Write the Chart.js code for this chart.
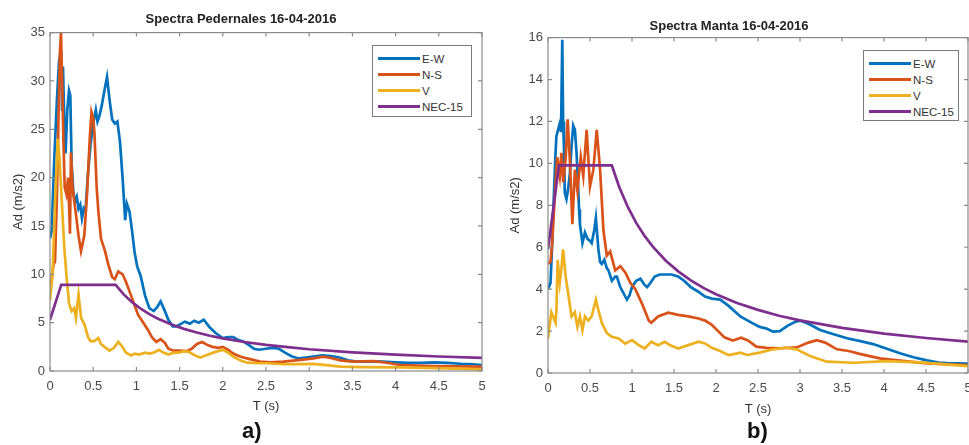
<!DOCTYPE html>
<html>
<head>
<meta charset="utf-8">
<script src="https://cdn.jsdelivr.net/npm/chart.js@4.4.1/dist/chart.umd.min.js"></script>
<style>
  body { margin: 0; width: 969px; height: 445px; background: #fff; position: relative; overflow: hidden;
         font-family: 'Liberation Sans', Arial, sans-serif; }
  canvas { position: absolute; top: 0; }
  #pedernales { left: 0; }
  #manta { left: 490px; }
  .legend { position: absolute; background: #fff; border: 1.5px solid #7a7a7a; box-sizing: border-box; padding-top: 5px; }
  .legend div { height: 16px; line-height: 16px; font-size: 11.5px; color: #333; white-space: nowrap; }
  .legend span { display: inline-block; width: 42px; height: 3px; vertical-align: middle; margin: 0 2px 2px 5px; }
  #legPed { left: 372px; top: 45px; width: 100px; height: 72px; }
  #legManta { left: 863px; top: 50px; width: 96px; height: 71px; }
  .panel { position: absolute; top: 418px; font-weight: bold; font-size: 22px; color: #111; }
</style>
</head>
<body>
<canvas id="pedernales" width="490" height="420"></canvas>
<canvas id="manta" width="479" height="420"></canvas>
<div class="legend" id="legPed"></div>
<div class="legend" id="legManta"></div>
<div class="panel" style="left:242px">a)</div>
<div class="panel" style="left:747px">b)</div>

<script>
const seriesNames = ['E-W', 'N-S', 'V', 'NEC-15'];
const colors = ['#0072BD', '#D95319', '#EDB120', '#7E2F8E'];

// Pedernales 16-04-2016, [T (s), Ad (m/s2)]
const pedEW = [[0,13.7],[0.02,14.5],[0.05,22],[0.08,28],[0.104,32],[0.127,33.2],[0.14,27],[0.15,31.5],[0.165,26],[0.18,22.5],[0.2,27],[0.22,29],[0.235,28.5],[0.25,21.5],[0.27,18.5],[0.29,17.5],[0.31,18],[0.33,16.8],[0.35,17.2],[0.37,15.8],[0.39,16.8],[0.41,16.5],[0.44,20.5],[0.47,23.5],[0.5,25.6],[0.53,27],[0.55,25.8],[0.57,26.3],[0.6,27.5],[0.63,29],[0.66,30.4],[0.69,28],[0.72,26],[0.75,25.6],[0.78,25.8],[0.81,23.7],[0.84,20],[0.87,15.6],[0.89,17.3],[0.92,16.5],[0.95,14.5],[0.98,12.2],[1.01,10.8],[1.05,9.8],[1.1,7.8],[1.15,6.5],[1.2,6.2],[1.24,6.6],[1.28,7.2],[1.32,6.4],[1.37,5.3],[1.42,4.6],[1.46,4.6],[1.5,4.8],[1.56,5.1],[1.62,4.9],[1.67,5.2],[1.72,5.0],[1.78,5.3],[1.85,4.5],[1.92,3.9],[2.0,3.4],[2.06,3.5],[2.12,3.5],[2.18,3.2],[2.24,3.05],[2.3,2.7],[2.36,2.3],[2.42,2.2],[2.5,2.3],[2.58,2.4],[2.65,2.3],[2.72,1.9],[2.8,1.5],[2.88,1.3],[2.96,1.4],[3.05,1.5],[3.15,1.62],[3.25,1.55],[3.35,1.4],[3.45,1.1],[3.55,0.97],[3.7,1.0],[3.85,0.97],[4.0,0.9],[4.15,0.85],[4.3,0.85],[4.45,0.9],[4.6,0.85],[4.75,0.75],[4.9,0.7],[5.0,0.62]];
const pedNS = [[0,8],[0.02,9.5],[0.04,11],[0.058,11.3],[0.08,18],[0.1,27],[0.115,33],[0.127,35],[0.14,30],[0.155,24],[0.17,19],[0.19,18.3],[0.21,20],[0.225,16],[0.231,14.2],[0.243,22.6],[0.26,19],[0.289,17],[0.31,15.5],[0.33,14],[0.359,12.4],[0.397,14],[0.43,18.5],[0.46,24],[0.48,26.8],[0.5,26.2],[0.515,24.5],[0.54,19],[0.56,16.5],[0.59,13.7],[0.637,12.4],[0.675,11],[0.72,9.7],[0.75,9.5],[0.79,10.3],[0.84,10],[0.88,9.2],[0.93,8],[0.97,7],[1.02,5.8],[1.08,5],[1.13,4.3],[1.18,3.5],[1.23,3.0],[1.28,3.3],[1.33,2.9],[1.37,2.3],[1.43,2.1],[1.5,2.1],[1.58,2.05],[1.64,2.3],[1.7,2.8],[1.76,3.0],[1.82,2.7],[1.88,2.5],[1.95,2.4],[2.0,2.5],[2.06,2.2],[2.12,1.8],[2.2,1.5],[2.28,1.3],[2.43,0.97],[2.55,0.9],[2.7,0.97],[2.9,1.15],[3.05,1.3],[3.16,1.49],[3.25,1.35],[3.36,1.1],[3.51,0.97],[3.74,1.03],[3.9,0.85],[4.05,0.62],[4.25,0.55],[4.44,0.5],[4.7,0.47],[5.0,0.45]];
const pedV = [[0,7.3],[0.03,10],[0.06,18],[0.089,24],[0.11,22],[0.135,17.8],[0.166,12.7],[0.193,9.6],[0.22,7],[0.25,6.2],[0.28,6.5],[0.3,5.5],[0.33,7.9],[0.36,5.5],[0.4,4.8],[0.44,3.5],[0.47,3.1],[0.51,3.1],[0.56,3.4],[0.59,2.8],[0.63,2.5],[0.69,2.1],[0.74,2.4],[0.79,3.0],[0.83,2.6],[0.88,1.9],[0.94,1.6],[0.98,1.8],[1.03,1.7],[1.1,1.9],[1.15,1.8],[1.2,1.9],[1.26,2.2],[1.31,1.9],[1.37,1.7],[1.43,1.9],[1.49,1.9],[1.55,2.06],[1.6,2.0],[1.68,1.6],[1.74,1.4],[1.8,1.6],[1.89,1.9],[2.0,2.2],[2.06,1.9],[2.12,1.5],[2.2,1.1],[2.28,0.86],[2.4,0.8],[2.51,0.8],[2.7,0.7],[2.9,0.72],[3.05,0.73],[3.2,0.6],[3.36,0.45],[3.6,0.4],[4.05,0.38],[4.5,0.3],[5.0,0.17]];
const pedNEC = [[0,5.3],[0.13,8.9],[0.76,8.9],[0.85,7.95],[0.95,7.12],[1.05,6.44],[1.15,5.88],[1.25,5.41],[1.4,4.83],[1.55,4.36],[1.7,3.98],[1.85,3.65],[2.0,3.38],[2.25,3.0],[2.5,2.7],[2.75,2.46],[3.0,2.25],[3.5,1.93],[4.0,1.69],[4.5,1.5],[5.0,1.35]];

// Manta 16-04-2016
const mantaEW = [[0,4.0],[0.03,4.3],[0.05,6.2],[0.07,8.5],[0.09,10.5],[0.1,11.3],[0.12,11.6],[0.14,11.9],[0.155,11.5],[0.17,15.9],[0.18,12],[0.19,10.8],[0.2,8.6],[0.22,8.3],[0.24,8.8],[0.26,9.5],[0.28,10.8],[0.3,11.8],[0.32,11.6],[0.34,10.5],[0.355,9.2],[0.37,7.8],[0.38,7.1],[0.41,6.2],[0.44,6.7],[0.47,6.4],[0.5,6.3],[0.52,6.2],[0.55,6.8],[0.57,7.4],[0.6,5.9],[0.62,5.3],[0.64,5.2],[0.67,5.4],[0.7,5.0],[0.72,4.9],[0.76,4.4],[0.8,4.6],[0.82,4.6],[0.86,4.1],[0.9,3.8],[0.94,3.5],[0.97,3.7],[1.0,4.1],[1.05,4.4],[1.1,4.5],[1.15,4.2],[1.18,4.1],[1.22,4.3],[1.27,4.6],[1.33,4.7],[1.4,4.7],[1.47,4.7],[1.55,4.6],[1.62,4.4],[1.7,4.1],[1.78,3.9],[1.87,3.65],[1.95,3.55],[2.05,3.5],[2.15,3.2],[2.29,2.7],[2.4,2.45],[2.52,2.2],[2.6,2.12],[2.68,1.97],[2.76,2.0],[2.85,2.25],[2.95,2.45],[3.0,2.5],[3.1,2.35],[3.24,2.05],[3.4,1.85],[3.56,1.66],[3.72,1.52],[3.87,1.38],[4.0,1.2],[4.19,0.94],[4.35,0.75],[4.51,0.6],[4.65,0.5],[4.75,0.47],[5.0,0.45]];
const mantaNS = [[0,5.2],[0.03,5.3],[0.05,6.2],[0.08,8.4],[0.11,10.3],[0.14,9.4],[0.16,10.5],[0.18,9.1],[0.21,10.2],[0.234,12.1],[0.26,10.2],[0.29,7.1],[0.32,9.7],[0.35,8.7],[0.39,10.3],[0.42,9.4],[0.46,11.6],[0.5,8.9],[0.54,9.7],[0.58,11.6],[0.62,9.7],[0.66,6.8],[0.7,5.6],[0.74,5.8],[0.8,4.9],[0.86,5.1],[0.92,4.8],[0.98,4.3],[1.04,4.0],[1.12,3.3],[1.2,2.5],[1.23,2.4],[1.31,2.7],[1.43,2.88],[1.55,2.77],[1.67,2.7],[1.79,2.6],[1.87,2.5],[1.95,2.3],[2.0,2.1],[2.1,1.7],[2.2,1.55],[2.3,1.68],[2.38,1.55],[2.48,1.26],[2.6,1.2],[2.76,1.18],[2.96,1.22],[3.1,1.45],[3.2,1.57],[3.3,1.45],[3.44,1.13],[3.58,1.05],[3.71,0.91],[3.95,0.7],[4.19,0.59],[4.51,0.46],[5.0,0.38]];
const mantaV = [[0,1.65],[0.04,2.9],[0.06,2.7],[0.09,2.4],[0.1,3.0],[0.115,5.4],[0.14,4.3],[0.16,5.0],[0.18,5.9],[0.21,4.6],[0.24,3.8],[0.28,2.7],[0.32,2.9],[0.35,2.2],[0.38,2.7],[0.41,2.05],[0.44,2.7],[0.48,2.5],[0.52,2.7],[0.57,3.5],[0.6,3.0],[0.64,2.4],[0.7,1.9],[0.76,1.73],[0.84,1.65],[0.92,1.4],[1.0,1.57],[1.08,1.33],[1.15,1.17],[1.23,1.49],[1.31,1.33],[1.39,1.49],[1.45,1.33],[1.55,1.17],[1.67,1.33],[1.79,1.49],[1.87,1.41],[1.95,1.2],[2.05,1.05],[2.15,0.85],[2.21,0.9],[2.29,0.97],[2.37,0.86],[2.52,0.97],[2.68,1.13],[2.84,1.21],[2.96,1.13],[3.12,0.81],[3.32,0.54],[3.64,0.49],[4.03,0.57],[4.43,0.51],[5.0,0.33]];
const mantaNEC = [[0,5.9],[0.13,9.9],[0.76,9.9],[0.85,8.85],[0.95,7.92],[1.05,7.16],[1.15,6.54],[1.25,6.02],[1.4,5.37],[1.55,4.85],[1.7,4.42],[1.85,4.06],[2.0,3.76],[2.25,3.34],[2.5,3.01],[2.75,2.73],[3.0,2.51],[3.5,2.15],[4.0,1.88],[4.5,1.67],[5.0,1.5]];

const axisColor = '#8a8a8a';
const labelColor = '#4a4a4a';
Chart.defaults.font.family = "'Liberation Sans', Arial, sans-serif";

// matlab style box with inward ticks on all four sides
const boxTicks = {
  id: 'boxTicks',
  afterDatasetsDraw(chart) {
    const { ctx, chartArea: a, scales: { x, y } } = chart;
    ctx.save();
    ctx.strokeStyle = axisColor;
    ctx.lineWidth = 1.2;
    ctx.strokeRect(a.left, a.top, a.right - a.left, a.bottom - a.top);
    ctx.beginPath();
    x.ticks.forEach(t => {
      const px = x.getPixelForValue(t.value);
      ctx.moveTo(px, a.bottom); ctx.lineTo(px, a.bottom - 4);
      ctx.moveTo(px, a.top); ctx.lineTo(px, a.top + 4);
    });
    y.ticks.forEach(t => {
      const py = y.getPixelForValue(t.value);
      ctx.moveTo(a.left, py); ctx.lineTo(a.left + 4, py);
      ctx.moveTo(a.right, py); ctx.lineTo(a.right - 4, py);
    });
    ctx.stroke();
    ctx.restore();
  }
};

function datasetsFrom(list) {
  return list.map((pts, i) => ({
    label: seriesNames[i],
    data: pts.map(p => ({ x: p[0], y: p[1] })),
    borderColor: colors[i],
    backgroundColor: colors[i],
    borderWidth: 2.7,
    pointRadius: 0,
    tension: 0,
    order: 4 - i
  }));
}

function spectraChart(id, title, list, yMax, yStep, o) {
  return new Chart(document.getElementById(id), {
    type: 'line',
    data: { datasets: datasetsFrom(list) },
    options: {
      responsive: false,
      animation: false,
      layout: { padding: { left: 0, right: o.padRight, bottom: 0 } },
      plugins: {
        legend: { display: false },
        tooltip: { enabled: false },
        title: {
          display: true, text: title, color: '#222',
          font: { size: 13, weight: 'bold' },
          padding: { top: o.titleTop, bottom: o.titleBottom }
        }
      },
      scales: {
        x: {
          type: 'linear', min: 0, max: 5,
          grid: { display: false, drawTicks: false },
          border: { display: false },
          ticks: { stepSize: 0.5, color: labelColor, font: { size: 13 }, padding: 8, maxRotation: 0, autoSkip: false,
                   callback: v => String(v) },
          title: { display: true, text: 'T (s)', color: '#333', font: { size: 13 }, padding: { top: 0, bottom: o.xTitleBottom } },
          afterFit(s) { s.height = o.xHeight; s.paddingRight = 0; }
        },
        y: {
          type: 'linear', min: 0, max: yMax,
          grid: { display: false, drawTicks: false },
          border: { display: false },
          ticks: { stepSize: yStep, color: labelColor, font: { size: 13 }, padding: 5, callback: v => String(v) },
          title: { display: true, text: 'Ad (m/s2)', color: '#333', font: { size: 13 }, padding: { top: o.yTitleLeft, bottom: 0 } },
          afterFit(s) { s.width = o.yWidth; }
        }
      }
    },
    plugins: [boxTicks]
  });
}

spectraChart('pedernales', 'Spectra Pedernales 16-04-2016', [pedEW, pedNS, pedV, pedNEC], 35, 5,
  { padRight: 8, titleTop: 12, titleBottom: 5, xHeight: 49, xTitleBottom: 6, yWidth: 50, yTitleLeft: 11 });
spectraChart('manta', 'Spectra Manta 16-04-2016', [mantaEW, mantaNS, mantaV, mantaNEC], 16, 2,
  { padRight: 1, titleTop: 19, titleBottom: 3, xHeight: 47, xTitleBottom: 3, yWidth: 58, yTitleLeft: 18 });

// legends
['legPed', 'legManta'].forEach(id => {
  const box = document.getElementById(id);
  seriesNames.forEach((name, i) => {
    const row = document.createElement('div');
    const line = document.createElement('span');
    line.style.background = colors[i];
    row.appendChild(line);
    row.appendChild(document.createTextNode(name));
    box.appendChild(row);
  });
});
</script>
</body>
</html>
